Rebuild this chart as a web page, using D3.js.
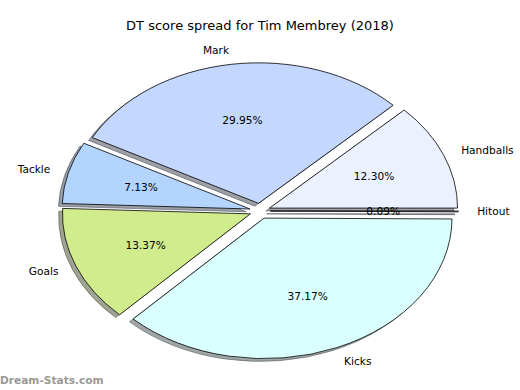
<!DOCTYPE html>
<html>
<head>
<meta charset="utf-8">
<script src="https://cdn.jsdelivr.net/npm/d3@7.9.0/dist/d3.min.js"></script>
<style>
  body { margin: 0; background: #fff; }
  text { font-family: "DejaVu Sans", sans-serif; fill: #000; }
</style>
</head>
<body>
<div id="chart"></div>
<script>
const labels = ['Handballs', 'Mark', 'Tackle', 'Goals', 'Kicks', 'Hitout'];
const shares = [12.30, 29.95, 7.13, 13.37, 37.17, 0.09];
const colors = ['#ebf1ff', '#c4d8ff', '#b3d4ff', '#d0ec8c', '#d9ffff', '#c0c0ff'];
const title = 'DT score spread for Tim Membrey (2018)';

const width = 520, height = 390;
const cx = 260, cy = 211;     // pie centre
const rx = 188, ry = 140.5;   // ellipse radii (axes aspect not equal)
const explode = 0.055;

const svg = d3.select('#chart')
  .append('svg')
  .attr('width', width)
  .attr('height', height);

const total = d3.sum(shares);

// matplotlib style: start at 3 o'clock, go counterclockwise
const pie = d3.pie().sort(null)
  .startAngle(Math.PI / 2)
  .endAngle(Math.PI / 2 - 2 * Math.PI);

const arcs = pie(shares).map((d, i) => {
  const mid = (d.startAngle + d.endAngle) / 2;
  return {
    ...d,
    label: labels[i],
    color: colors[i],
    ux: Math.sin(mid),
    uy: -Math.cos(mid),
    pct: (d.value / total * 100).toFixed(2) + '%'
  };
});

const arc = d3.arc().innerRadius(0).outerRadius(1);

const offX = d => cx + explode * rx * d.ux;
const offY = d => cy + explode * ry * d.uy;
const dark = d => { const c = d3.rgb(d.color); return d3.rgb(c.r * 0.3, c.g * 0.3, c.b * 0.3); };

// shadows first (drawn under every wedge)
svg.append('g').attr('class', 'shadows')
  .selectAll('path')
  .data(arcs)
  .join('path')
  .attr('transform', d => `translate(${offX(d) - 0.02 * rx},${offY(d) + 0.02 * ry}) scale(${rx},${ry})`)
  .attr('d', arc)
  .attr('fill', dark)
  .attr('fill-opacity', 0.5)
  .attr('stroke', dark)
  .attr('stroke-opacity', 0.5)
  .attr('stroke-width', 1)
  .attr('vector-effect', 'non-scaling-stroke');

svg.append('g').attr('class', 'wedges')
  .selectAll('path')
  .data(arcs)
  .join('path')
  .attr('transform', d => `translate(${offX(d)},${offY(d)}) scale(${rx},${ry})`)
  .attr('d', arc)
  .attr('fill', d => d.color)
  .attr('stroke', '#000')
  .attr('stroke-width', 0.8)
  .attr('vector-effect', 'non-scaling-stroke');

// outer labels at 1.1 radius
svg.append('g').attr('class', 'labels')
  .selectAll('text')
  .data(arcs)
  .join('text')
  .attr('x', d => offX(d) + 1.1 * rx * d.ux)
  .attr('y', d => offY(d) + 1.1 * ry * d.uy)
  .attr('text-anchor', d => d.ux > 0 ? 'start' : 'end')
  .attr('dominant-baseline', 'central')
  .style('font-size', '10.6px')
  .text(d => d.label);

// percentage labels at 0.6 radius
svg.append('g').attr('class', 'pcts')
  .selectAll('text')
  .data(arcs)
  .join('text')
  .attr('x', d => offX(d) + 0.6 * rx * d.ux)
  .attr('y', d => offY(d) + 0.6 * ry * d.uy)
  .attr('text-anchor', 'middle')
  .attr('dominant-baseline', 'central')
  .style('font-size', '10.6px')
  .text(d => d.pct);

svg.append('text')
  .attr('x', 260)
  .attr('y', 25)
  .attr('text-anchor', 'middle')
  .attr('dominant-baseline', 'central')
  .style('font-size', '13px')
  .text(title);

svg.append('text')
  .attr('x', 0)
  .attr('y', 384)
  .style('font-size', '10.6px')
  .style('font-weight', 'bold')
  .style('fill', '#999')
  .text('Dream-Stats.com');
</script>
</body>
</html>
